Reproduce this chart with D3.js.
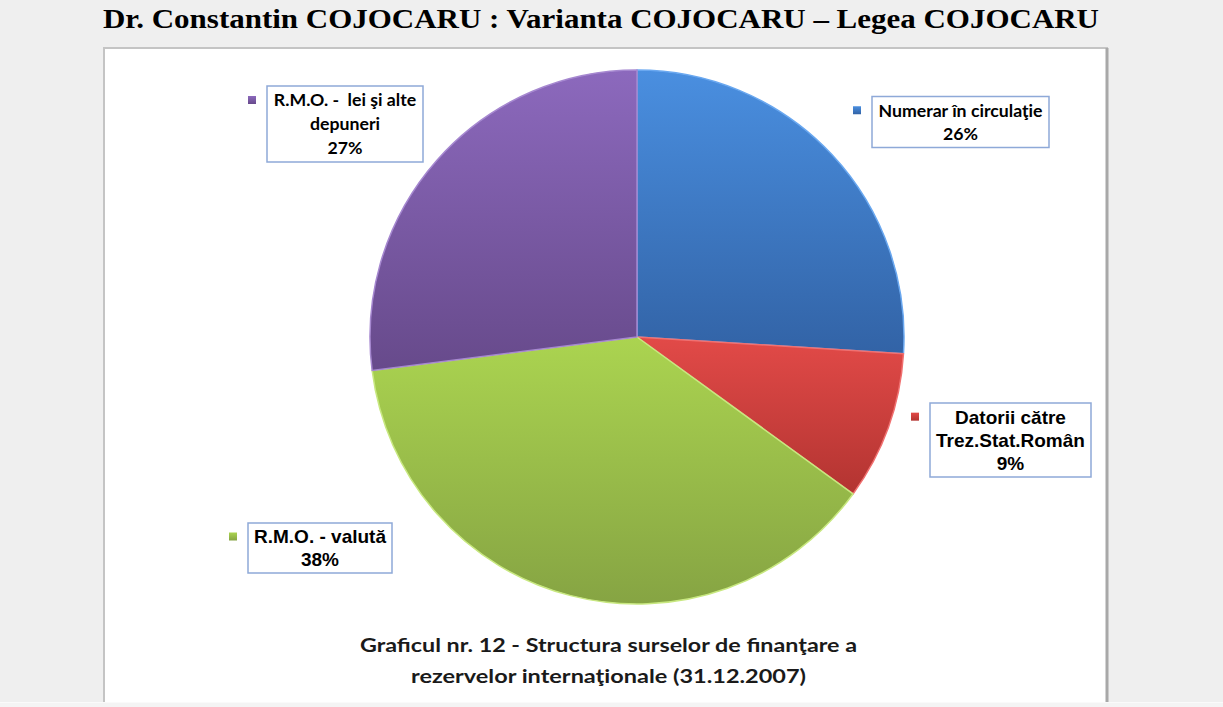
<!DOCTYPE html>
<html>
<head>
<meta charset="utf-8">
<script src="https://cdn.jsdelivr.net/npm/d3@7"></script>
<style>
  html, body { margin: 0; padding: 0; background: #efefef; }
  svg { display: block; }
  text { white-space: pre; }
</style>
</head>
<body>
<svg id="chart" width="1223" height="707"></svg>
<script>
// ---- data ----
const categories = ["Numerar în circulaţie", "Datorii către Trez.Stat.Român", "R.M.O. - valută", "R.M.O. -  lei şi alte depuneri"];
const labelLines = [
  ["Numerar în circulaţie"],
  ["Datorii către", "Trez.Stat.Român"],
  ["R.M.O. - valută"],
  ["R.M.O. -  lei şi alte", "depuneri"]
];
const values = [26, 9, 38, 27];
const percentLabels = ["26%", "9%", "38%", "27%"];
const titleText = "Dr. Constantin COJOCARU : Varianta COJOCARU – Legea COJOCARU";
const captionLines = ["Graficul nr. 12 - Structura surselor de finanţare a", "rezervelor internaţionale (31.12.2007)"];

// ---- styles / layout ----
const colorsTop = ["#4a8fe0", "#e24a48", "#abd450", "#8c69bd"];
const colorsBottom = ["#3263a6", "#b33431", "#86a443", "#674a8b"];
const edgeColors = ["#6aa8f0", "#f07070", "#c8e880", "#a688d0"];
const labelFonts = ["Lato", "Liberation Sans", "Liberation Sans", "Lato"];
// label box centers (layout)
const labelCenters = [[960.5, 122], [1010.5, 440], [320, 548], [345, 124]];
const boxSizes = [[177, 51], [161, 74], [144, 50], [156, 76]];

const svg = d3.select("#chart");
const defs = svg.append("defs");

// panel
svg.append("rect").attr("x", 104).attr("y", 48).attr("width", 1003).attr("height", 660)
  .attr("fill", "#ffffff").attr("stroke", "#c4c4c4").attr("stroke-width", 2);
svg.append("line").attr("x1", 1107).attr("x2", 1107).attr("y1", 48).attr("y2", 702)
  .attr("stroke", "#a8a8a8").attr("stroke-width", 3);
svg.append("rect").attr("x", 0).attr("y", 702).attr("width", 1223).attr("height", 5).attr("fill", "#f4f4f4");
svg.append("line").attr("x1", 0).attr("x2", 1223).attr("y1", 702.5).attr("y2", 702.5).attr("stroke", "#fafafa");

// title
svg.append("text")
  .attr("x", 601).attr("y", 28)
  .attr("text-anchor", "middle")
  .attr("font-family", "'Liberation Serif', 'DejaVu Serif', serif")
  .attr("font-weight", "bold")
  .attr("font-size", 28)
  .attr("textLength", 996)
  .attr("lengthAdjust", "spacingAndGlyphs")
  .attr("fill", "#000")
  .text(titleText);

// gradients
values.forEach((v, i) => {
  const g = defs.append("linearGradient").attr("id", "grad" + i)
    .attr("x1", 0).attr("y1", 0).attr("x2", 0).attr("y2", 1);
  g.append("stop").attr("offset", "0%").attr("stop-color", colorsTop[i]);
  g.append("stop").attr("offset", "100%").attr("stop-color", colorsBottom[i]);
});

// pie
const cx = 637, cy = 337, R = 267;
const pie = d3.pie().sort(null).value(d => d)(values);
const arc = d3.arc().innerRadius(0).outerRadius(R);
const pg = svg.append("g").attr("transform", `translate(${cx},${cy})`);
pg.selectAll("path.slice").data(pie).join("path")
  .attr("class", "slice")
  .attr("d", arc)
  .attr("fill", (d, i) => `url(#grad${i})`)
  .attr("stroke", (d, i) => edgeColors[i])
  .attr("stroke-width", 1.5)
  .attr("stroke-linejoin", "round");

// labels
const lg = svg.append("g");
labelLines.forEach((lines, i) => {
  const all = lines.concat([percentLabels[i]]);
  const [bx, by] = labelCenters[i];
  const [bw, bh] = boxSizes[i];
  const g = lg.append("g");
  g.append("rect")
    .attr("x", bx - bw / 2).attr("y", by - bh / 2)
    .attr("width", bw).attr("height", bh)
    .attr("fill", "#ffffff").attr("stroke", "#8ea9d8").attr("stroke-width", 1.5);
  const lh = (bh - 4) / all.length;
  all.forEach((t, j) => {
    g.append("text")
      .attr("x", bx)
      .attr("y", by - bh / 2 + 2 + lh * (j + 0.5))
      .attr("dy", "0.36em")
      .attr("text-anchor", "middle")
      .attr("font-family", labelFonts[i] === "Lato" ? "Lato, 'Open Sans', sans-serif" : "'Liberation Sans', Arial, sans-serif")
      .attr("font-weight", "bold")
      .attr("font-size", labelFonts[i] === "Lato" ? 17.7 : 19)
      .attr("fill", "#000")
      .text(t);
  });
  // marker
  const mx = bx - bw / 2 - 15, my = by - bh / 2 + 2 + lh * 0.5;
  g.append("rect")
    .attr("x", mx - 4).attr("y", my - 4).attr("width", 8).attr("height", 8)
    .attr("fill", `url(#grad${i})`);
});

// caption
captionLines.forEach((t, j) => {
  svg.append("text")
    .attr("x", 608.5).attr("y", 645 + j * 31)
    .attr("dy", "0.36em")
    .attr("text-anchor", "middle")
    .attr("font-family", "Lato, 'Open Sans', sans-serif")
    .attr("font-weight", "bold")
    .attr("font-size", 19.5)
    .attr("textLength", j === 0 ? 497 : 395)
    .attr("lengthAdjust", "spacingAndGlyphs")
    .attr("fill", "#1a1a1a")
    .text(t);
});
</script>
</body>
</html>
